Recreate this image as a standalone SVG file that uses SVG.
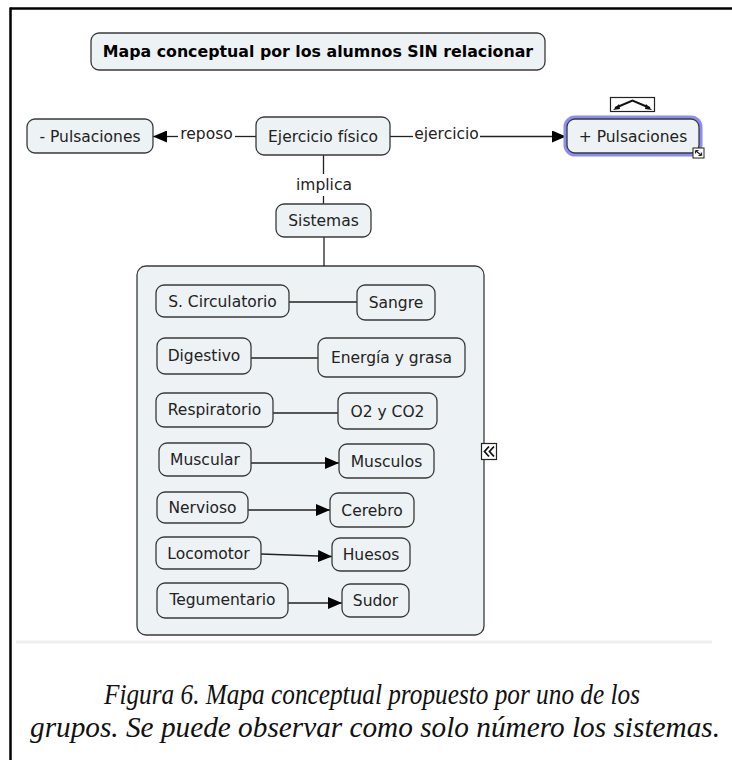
<svg xmlns="http://www.w3.org/2000/svg" width="732" height="760" viewBox="0 0 732 760">
  <style>
    .node rect { fill: #edf2f4; stroke: #3a3a3a; stroke-width: 1.3; }
    .node text { font-family: "DejaVu Sans", Verdana, sans-serif; font-size: 15.5px; fill: #222; text-anchor: middle; }
    .title text { font-weight: bold; font-size: 15.8px; fill: #000; }
    .lbl { font-family: "DejaVu Sans", Verdana, sans-serif; font-size: 15.5px; fill: #222; text-anchor: middle; }
    .conn line, .conn path { stroke: #222; stroke-width: 1.3; fill: none; }
    .caption { font-family: "Liberation Serif", "Times New Roman", serif; font-style: italic; font-size: 29px; fill: #111; text-anchor: middle; }
  </style>
  <defs>
    <marker id="arrow" viewBox="0 0 14 12" refX="14" refY="6" markerWidth="14" markerHeight="12" markerUnits="userSpaceOnUse" orient="auto">
      <path d="M0,0 L14,6 L0,12 Z" fill="#000"/>
    </marker>
  </defs>

  <rect width="732" height="760" fill="#fff"/>

  <!-- page frame: top and left rules -->
  <line x1="10" y1="8.5" x2="732" y2="8.5" stroke="#000" stroke-width="2.5"/>
  <line x1="10.5" y1="7.5" x2="10.5" y2="760" stroke="#000" stroke-width="2.5"/>

  <!-- separator under the map -->
  <line x1="16" y1="642" x2="712" y2="642" stroke="#eeeeee" stroke-width="3"/>

  <!-- group container for the systems -->
  <g id="systems-box" class="node">
    <rect x="137" y="266" width="347" height="369" rx="9"/>
  </g>

  <!-- connectors -->
  <g id="connectors" class="conn">
    <line x1="256" y1="136.5" x2="235" y2="136.5"/>
    <line x1="178" y1="136.5" x2="153" y2="136.5" marker-end="url(#arrow)"/>
    <line x1="390" y1="136.5" x2="413" y2="136.5"/>
    <line x1="480" y1="136.5" x2="566" y2="136.5" marker-end="url(#arrow)"/>
    <line x1="323.5" y1="155" x2="323.5" y2="174"/>
    <line x1="323.5" y1="196" x2="323.5" y2="204"/>
    <line x1="324" y1="237" x2="324" y2="266"/>
    <line x1="289" y1="302" x2="357" y2="302"/>
    <line x1="251" y1="358" x2="318" y2="358"/>
    <line x1="273" y1="413" x2="338" y2="413"/>
    <line x1="251" y1="463" x2="339" y2="463" marker-end="url(#arrow)"/>
    <line x1="248" y1="510" x2="330" y2="510" marker-end="url(#arrow)"/>
    <line x1="261" y1="554" x2="332" y2="556.5" marker-end="url(#arrow)"/>
    <line x1="288" y1="603" x2="342" y2="603" marker-end="url(#arrow)"/>
  </g>

  <!-- linking phrases -->
  <text class="lbl" x="206.5" y="139">reposo</text>
  <text class="lbl" x="446.5" y="139">ejercicio</text>
  <text class="lbl" x="324" y="190">implica</text>

  <g id="title" class="node title">
    <rect x="91" y="33" width="454" height="37" rx="8"/>
    <text x="318" y="57">Mapa conceptual por los alumnos SIN relacionar</text>
  </g>

  <g id="menos-pulsaciones" class="node">
    <rect x="27" y="119" width="126" height="34" rx="8"/>
    <text x="90" y="141.5">- Pulsaciones</text>
  </g>

  <g id="ejercicio-fisico" class="node">
    <rect x="256" y="117" width="134" height="38" rx="8"/>
    <text x="323" y="141.5">Ejercicio físico</text>
  </g>

  <g id="mas-pulsaciones" class="node">
    <rect x="566" y="118" width="134" height="36" rx="9" style="fill:none;stroke:#8c8cf2;stroke-width:5"/>
    <rect x="567" y="119" width="132" height="34" rx="8"/>
    <text x="633" y="141.5">+ Pulsaciones</text>
    <!-- resize handle -->
    <rect x="693" y="148" width="11" height="10" style="fill:#fff;stroke:#222;stroke-width:1"/>
    <path d="M695.5,150.5 L701.5,155.5 M695.5,150.5 h3 M695.5,150.5 v3 M701.5,155.5 h-3 M701.5,155.5 v-3" style="fill:none;stroke:#222;stroke-width:1.2"/>
  </g>

  <!-- curve-toggle handle above the selected node -->
  <g id="curve-handle">
    <rect x="610.5" y="97.5" width="44" height="14" fill="#fff" stroke="#222" stroke-width="1.2"/>
    <path d="M615,108 L632.5,100.5 L650,108" fill="none" stroke="#111" stroke-width="2"/>
    <path d="M613,110 L619,104 L620,109 Z M652,110 L646,104 L645,109 Z" fill="#111"/>
  </g>

  <g id="sistemas" class="node">
    <rect x="276" y="204" width="95" height="33" rx="8"/>
    <text x="323.5" y="226">Sistemas</text>
  </g>

  <g id="s-circulatorio" class="node">
    <rect x="156" y="285" width="133" height="32" rx="8"/>
    <text x="222.5" y="306.5">S. Circulatorio</text>
  </g>
  <g id="sangre" class="node">
    <rect x="357" y="285" width="78" height="35" rx="8"/>
    <text x="396" y="307.5">Sangre</text>
  </g>

  <g id="digestivo" class="node">
    <rect x="157" y="338" width="94" height="36" rx="8"/>
    <text x="204" y="360.5">Digestivo</text>
  </g>
  <g id="energia-grasa" class="node">
    <rect x="318" y="338" width="147" height="39" rx="8"/>
    <text x="391.5" y="362.5">Energía y grasa</text>
  </g>

  <g id="respiratorio" class="node">
    <rect x="156" y="393" width="117" height="34" rx="8"/>
    <text x="214.5" y="414.5">Respiratorio</text>
  </g>
  <g id="o2-co2" class="node">
    <rect x="338" y="393" width="99" height="36" rx="8"/>
    <text x="387.5" y="416.5">O2 y CO2</text>
  </g>

  <g id="muscular" class="node">
    <rect x="159" y="443" width="92" height="33" rx="8"/>
    <text x="205" y="465">Muscular</text>
  </g>
  <g id="musculos" class="node">
    <rect x="339" y="444" width="95" height="34" rx="8"/>
    <text x="386.5" y="466.5">Musculos</text>
  </g>

  <g id="nervioso" class="node">
    <rect x="157" y="492" width="91" height="31" rx="8"/>
    <text x="202.5" y="513">Nervioso</text>
  </g>
  <g id="cerebro" class="node">
    <rect x="330" y="493" width="84" height="34" rx="8"/>
    <text x="372" y="515.5">Cerebro</text>
  </g>

  <g id="locomotor" class="node">
    <rect x="156" y="537" width="105" height="32" rx="8"/>
    <text x="208.5" y="558.5">Locomotor</text>
  </g>
  <g id="huesos" class="node">
    <rect x="332" y="538" width="78" height="33" rx="8"/>
    <text x="371" y="560">Huesos</text>
  </g>

  <g id="tegumentario" class="node">
    <rect x="157" y="583" width="131" height="35" rx="8"/>
    <text x="222.5" y="605">Tegumentario</text>
  </g>
  <g id="sudor" class="node">
    <rect x="342" y="584" width="67" height="33" rx="8"/>
    <text x="375.5" y="606">Sudor</text>
  </g>

  <!-- collapse handle on the container edge -->
  <g id="collapse-handle">
    <rect x="481.5" y="443.5" width="15" height="16" fill="#fff" stroke="#222" stroke-width="1.2"/>
    <path d="M489,446.5 L484.5,451.5 L489,456.5 M494,446.5 L489.5,451.5 L494,456.5" fill="none" stroke="#111" stroke-width="1.8"/>
  </g>

  <text class="caption" x="372" y="704" textLength="536" lengthAdjust="spacingAndGlyphs">Figura 6. Mapa conceptual propuesto por uno de los</text>
  <text class="caption" x="375" y="737" textLength="690" lengthAdjust="spacingAndGlyphs">grupos. Se puede observar como solo número los sistemas.</text>
</svg>
